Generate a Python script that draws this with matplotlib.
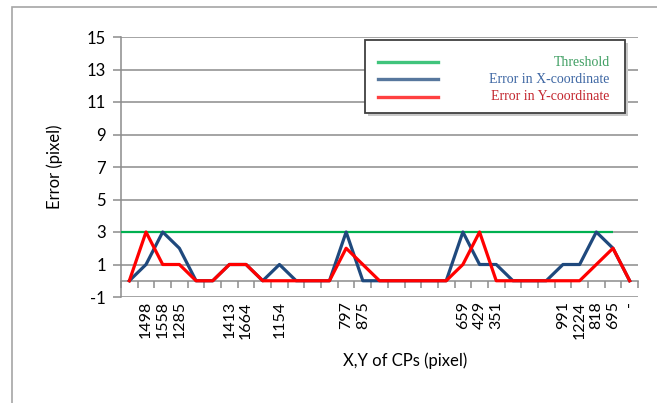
"""
Error in X and Y coordinates of control points against the 3 pixel threshold.
"""

import matplotlib.pyplot as plt
import numpy as np
from matplotlib.lines import Line2D
from matplotlib.patches import Rectangle

plt.rcParams['font.family'] = ['Lato', 'DejaVu Sans']
plt.rcParams['axes.unicode_minus'] = False

# category labels (blank where the original chart shows none)
cp_labels = ['', '1498', '1558', '1285', '', '', '1413', '1664', '', '1154',
             '', '', '', '797', '875', '', '', '', '', '', '659', '429', '351',
             '', '', '', '991', '1224', '818', '695', '-']

err_x = [0, 1, 3, 2, 0, 0, 1, 1, 0, 1, 0, 0, 0, 3, 0, 0, 0, 0, 0, 0,
         3, 1, 1, 0, 0, 0, 1, 1, 3, 2, 0]
err_y = [0, 3, 1, 1, 0, 0, 1, 1, 0, 0, 0, 0, 0, 2, 1, 0, 0, 0, 0, 0,
         1, 3, 0, 0, 0, 0, 0, 0, 1, 2, 0]
threshold = 3
threshold_end = 29

series_names = ['Threshold', 'Error in X-coordinate', 'Error in Y-coordinate']
line_colors = ['#00b050', '#1f497d', '#ff0000']
text_colors = ['#3f9e62', '#3d66a3', '#c3262e']

grey = '#8c8c8c'
n = len(cp_labels)
x = np.arange(n)

fig = plt.figure(figsize=(6.57, 4.03), dpi=100)
ax = fig.add_axes([121 / 657, 1 - 297 / 403, 517 / 657, 260 / 403])

# outer chart border
fig.patches.append(Rectangle((12 / 657, -0.05), 1.2, 1 - 7 / 403 + 0.05,
                             transform=fig.transFigure, fill=False,
                             edgecolor='#a6a6a6', linewidth=1.2))

ax.hlines(threshold, -0.5, threshold_end, color=line_colors[0], linewidth=1.6,
          zorder=3)
ax.plot(x, err_x, color=line_colors[1], linewidth=2.3, zorder=4)
ax.plot(x, err_y, color=line_colors[2], linewidth=2.3, zorder=5)

ax.set_xlim(-0.5, n - 0.5)
ax.set_ylim(-1, 15)
ax.set_yticks(np.arange(-1, 16, 2))
ax.yaxis.grid(True, color=grey, linewidth=1.1)
ax.set_axisbelow(True)

for side in ['top', 'right', 'bottom']:
    ax.spines[side].set_visible(False)
ax.spines['left'].set_color(grey)
ax.spines['left'].set_linewidth(1.1)
ax.tick_params(axis='y', direction='out', length=6, color=grey, width=1.1,
               labelsize=12, pad=5)

ax.set_xticks(x, cp_labels, rotation=90, fontsize=11.5)
ax.tick_params(axis='x', length=0, pad=3)

# category axis crossing at value 0, ticks between categories
secax = ax.secondary_xaxis(1 / 16)
secax.set_xticks(np.arange(-0.5, n, 1))
secax.tick_params(axis='x', direction='out', length=5, color=grey, width=1.1,
                  labelbottom=False)
secax.spines['bottom'].set_color(grey)
secax.spines['bottom'].set_linewidth(1.1)

ax.set_ylabel('Error (pixel)', fontsize=12)
ax.yaxis.set_label_coords(-0.113, 0.5)
ax.set_xlabel('X,Y of CPs (pixel)', fontsize=12)
ax.xaxis.set_label_coords(0.549, -0.215)

# legend box
lx0, lx1, ly0, ly1 = 0.472, 0.975, 0.708, 0.988
ax.add_patch(Rectangle((lx0 + 0.006, ly0 - 0.012), lx1 - lx0, ly1 - ly0,
                       transform=ax.transAxes, facecolor='#c8c8c8',
                       edgecolor='none', zorder=6))
ax.add_patch(Rectangle((lx0, ly0), lx1 - lx0, ly1 - ly0,
                       transform=ax.transAxes, facecolor='white',
                       edgecolor='#404040', linewidth=1.3, zorder=7))
for i, name in enumerate(series_names):
    yy = ly1 - 0.085 - i * 0.066
    ax.add_line(Line2D([0.497, 0.613], [yy, yy], transform=ax.transAxes,
                       color=line_colors[i], alpha=0.75, linewidth=2.4,
                       zorder=8))
    ax.text(0.945, yy, name, transform=ax.transAxes, ha='right',
            va='center', color=text_colors[i], fontsize=10,
            family='Liberation Serif', zorder=8)

fig.savefig('out.png', dpi=100)
